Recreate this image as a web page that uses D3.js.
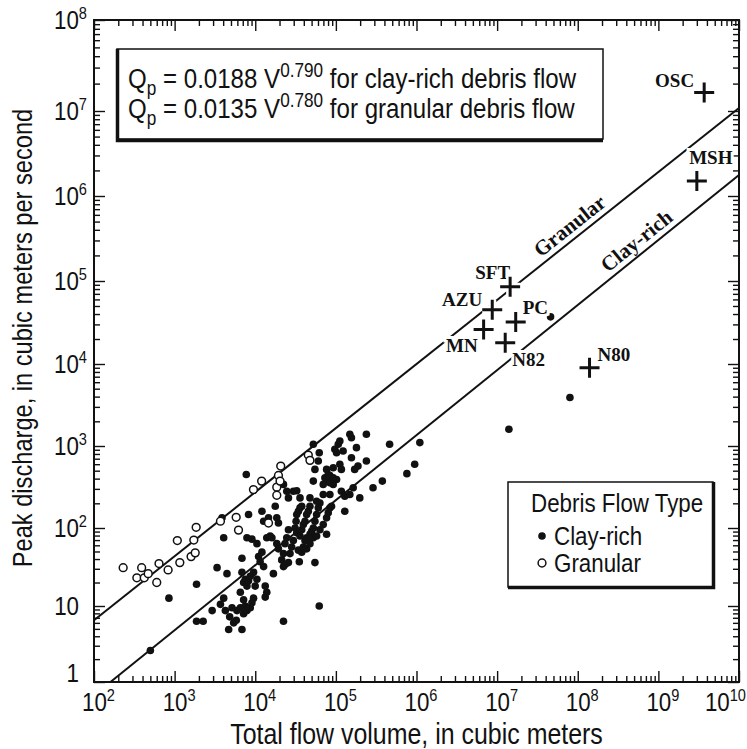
<!doctype html>
<html>
<head>
<meta charset="utf-8">
<style>
  body { margin: 0; background: #fff; }
  svg { display: block; }
  text { font-family: "Liberation Sans", Arial, sans-serif; fill: #111; }
  .tag { font-family: "Liberation Serif", "DejaVu Serif", serif; font-weight: bold; }
  .tick line { stroke: #111; stroke-width: 1.4; }
  .domain { display: none; }
</style>
<script src="https://cdn.jsdelivr.net/npm/d3@7"></script>
</head>
<body>
<svg width="747" height="749"></svg>
<script>

// clay-rich debris flows [volume m3, peak discharge m3/s]
var clayRich = [
  [500,2.6],[850,12.6],[1870,19],[1870,6.3],[2260,6.3],[3360,31],[2920,8.7],[3700,10.5],[4060,12.6],[4260,8.7],
  [4680,4.9],[4820,7.2],[5150,9.5],[5400,6.0],[5930,8.7],[6530,9.5],[6840,4.9],[7170,7.9],[7520,10],[7890,8.7],
  [8670,9.5],[9100,11],[5820,6.5],[4460,26],[4060,75],[3870,133],[6530,15],[6840,27],[7170,20],[7520,22],
  [7890,18],[8260,21],[8670,24],[9530,27],[9980,18],[10500,22],[9530,12.6],[7170,12],[6840,41],[7890,75],
  [8260,146],[7740,450],[9100,72],[10500,63],[11000,43],[11500,37],[12700,32],[12100,49],[13300,18],[13300,13],
  [13900,15],[13900,75],[15300,79],[16100,75],[16800,26],[12100,160],[12700,121],[14600,133],[18500,133],[19400,115],
  [17700,184],[18500,63],[19400,54],[21300,39],[22400,47],[23400,63],[24600,75],[25800,95],[22400,32],[23400,34],
  [25800,36],[27000,47],[28300,57],[29700,69],[31200,100],[32100,121],[32700,146],[34300,160],[35900,176],[37700,184],
  [32700,87],[35900,79],[37700,95],[39500,110],[41400,121],[43400,146],[45500,160],[47700,184],[41400,69],[43400,75],
  [47700,83],[50000,91],[52500,100],[55000,121],[57700,146],[60500,176],[63400,202],[34300,52],[37700,49],[39500,57],
  [43400,54],[47700,63],[52500,75],[57700,79],[63400,95],[69700,110],[76700,133],[76700,83],[80400,153],[84300,176],
  [88300,184],[35200,37],[55000,36],[62200,10],[22400,6.3],[25800,233],[24600,281],[29700,281],[32700,285],[22400,340],
  [35900,233],[47700,233],[57700,212],[69700,256],[84300,256],[52500,373],[55000,518],[60500,655],[62200,828],[52500,1050],
  [76700,518],[84300,437],[76700,373],[92700,409],[102000,391],[92700,340],[97000,910],[102000,828],[107000,1050],[112000,1150],
  [123000,869],[117000,518],[149000,1390],[156000,1260],[239000,1390],[180000,955],[156000,720],[188000,569],[117000,281],[129000,244],
  [149000,256],[164000,309],[198000,233],[129000,160],[239000,655],[171000,518],[289000,309],[377000,373],[464000,1050],[73100,409],
  [80400,450],[84300,356],[92700,543],[112000,597],[69700,340],[1.1e6,1100],[9.5e5,600],[7.6e5,460],[1.4e7,1600],[8e7,3900],
  [4.6e7,37000]
];

// granular debris flows
var granular = [
  [230,31],[390,31],[340,23],[420,23],[470,26],[600,20],[640,35],[830,29],[1160,36],[1080,69],
  [1600,43],[1800,48],[1730,70],[1850,102],[3700,121],[5800,135],[6200,94],[9500,294],[12000,373],[14600,115],
  [19400,437],[20700,569],[18500,315],[18500,251],[20300,373],[45500,776],[47700,668]
];

// labelled lahars (crosses)
var laharNames = ["OSC", "MSH", "SFT", "AZU", "PC", "MN", "N82", "N80"];
var laharV = [3.7e9, 3.0e9, 1.45e7, 8.7e6, 1.7e7, 6.8e6, 1.26e7, 1.4e8];
var laharQ = [1.6e7, 1.5e6, 8.5e4, 4.5e4, 3.2e4, 2.6e4, 1.8e4, 9.0e3];

// fitted lines, endpoints
var granularLine = [[1e2, 6.5], [1e10, 1.08e7]];
var clayLine = [[160, 1], [1e10, 1.77e6]];

var xTickValues = [1e2, 1e3, 1e4, 1e5, 1e6, 1e7, 1e8, 1e9, 1e10];
var xTickSup = ["2", "3", "4", "5", "6", "7", "8", "9", "10"];
var yTickValues = [1, 10, 1e2, 1e3, 1e4, 1e5, 1e6, 1e7, 1e8];
var yTickBase = ["1", "10", "10", "10", "10", "10", "10", "10", "10"];
var yTickSup = ["", "", "2", "3", "4", "5", "6", "7", "8"];

var svg = d3.select("svg");
var mLeft = 94, mRight = 739, mTop = 20, mBottom = 682;
var squeeze = 0.86;   // condensed look for the sans text

var x = d3.scaleLog().domain([1e2, 1e10]).range([mLeft, mRight]);
// the scanned axis is not quite even: decades are placed where the original ticks sit
var y = d3.scaleLog().domain(yTickValues)
          .range([mBottom, 606, 528, 446, 364, 281, 196, 111, mTop]);

// text squeezed horizontally, placed with a transform
function ctext(parent, tx, ty, size, anchor, rot) {
  return parent.append("text")
     .attr("transform", "translate(" + tx + "," + ty + ")" + (rot ? " rotate(" + rot + ")" : "") + " scale(" + squeeze + ",1)")
     .attr("font-size", size)
     .attr("text-anchor", anchor || "start");
}

function minors(majors) {
  var out = [];
  for (var i = 0; i < majors.length - 1; i++)
    for (var k = 2; k < 10; k++) out.push(majors[i] * k);
  return out;
}

// inward ticks on all four sides
function ticks(axisFn, scale, vals, size, tx, ty) {
  svg.append("g")
     .attr("transform", "translate(" + tx + "," + ty + ")")
     .call(axisFn(scale).tickValues(vals).tickSize(-size).tickSizeOuter(0).tickFormat(""));
}
[[xTickValues, 11], [minors(xTickValues), 6]].forEach(function(p) {
  ticks(d3.axisBottom, x, p[0], p[1], 0, mBottom);
  ticks(d3.axisTop, x, p[0], p[1], 0, mTop);
});
[[yTickValues, 11], [minors(yTickValues), 6]].forEach(function(p) {
  ticks(d3.axisLeft, y, p[0], p[1], mLeft, 0);
  ticks(d3.axisRight, y, p[0], p[1], mRight, 0);
});

svg.append("rect")
   .attr("x", mLeft).attr("y", mTop)
   .attr("width", mRight - mLeft).attr("height", mBottom - mTop)
   .attr("fill", "none").attr("stroke", "#111").attr("stroke-width", 2);

// tick labels
xTickValues.forEach(function(v, i) {
  var last = i === xTickValues.length - 1;
  var t = ctext(svg, last ? 746 : x(v) - 12, 711, 26, last ? "end" : "start");
  t.append("tspan").text("10");
  t.append("tspan").attr("font-size", 17).attr("dy", -10).text(xTickSup[i]);
});
yTickValues.forEach(function(v, i) {
  var t;
  if (yTickSup[i]) {
    t = ctext(svg, 87, y(v) + 9, 26, "end");
    t.append("tspan").text(yTickBase[i]);
    t.append("tspan").attr("font-size", 17).attr("dy", -10).text(yTickSup[i]);
  } else {
    ctext(svg, 79, y(v) + (i === 0 ? 0 : 9), 26, "end").text(yTickBase[i]);
  }
});

// axis titles
ctext(svg, (mLeft + mRight) / 2, 744, 29, "middle").text("Total flow volume, in cubic meters");
ctext(svg, 32, 338, 27.5, "middle", -90).text("Peak discharge, in cubic meters per second");

// fitted lines
var line = d3.line().x(function(d) { return x(d[0]); }).y(function(d) { return y(d[1]); });
[granularLine, clayLine].forEach(function(l) {
  svg.append("path").attr("d", line(l)).attr("fill", "none")
     .attr("stroke", "#111").attr("stroke-width", 2);
});

function lineLabel(l, t, txt) {
  var x0 = x(l[0][0]), y0 = y(l[0][1]), x1 = x(l[1][0]), y1 = y(l[1][1]);
  var ang = Math.atan2(y1 - y0, x1 - x0) * 180 / Math.PI;
  svg.append("text").attr("class", "tag")
     .attr("transform", "translate(" + (x0 + (x1 - x0) * t) + "," + (y0 + (y1 - y0) * t) + ") rotate(" + ang + ")")
     .attr("text-anchor", "middle").attr("dy", -6).attr("font-size", 21)
     .text(txt);
}
lineLabel(granularLine, 0.75, "Granular");
lineLabel(clayLine, 0.85, "Clay-rich");

// data points
svg.append("g").selectAll("circle").data(clayRich).enter().append("circle")
   .attr("cx", function(d) { return x(d[0]); })
   .attr("cy", function(d) { return y(d[1]); })
   .attr("r", 3.8).attr("fill", "#111");
svg.append("g").selectAll("circle").data(granular).enter().append("circle")
   .attr("cx", function(d) { return x(d[0]); })
   .attr("cy", function(d) { return y(d[1]); })
   .attr("r", 3.9).attr("fill", "#fff").attr("stroke", "#111").attr("stroke-width", 1.5);

// lahar labels: offsets relative to the cross
var tagPos = {
  OSC: [-10, -5, "end"], MSH: [14, -17, "middle"], SFT: [0, -8, "end"], AZU: [-10, -4, "end"],
  PC: [7, -8, "start"], MN: [-6, 22, "end"], N82: [7, 23, "start"], N80: [8, -7, "start"]
};
laharNames.forEach(function(n, i) {
  var cx = x(laharV[i]), cy = y(laharQ[i]), p = tagPos[n];
  svg.append("text").attr("class", "tag")
     .attr("x", cx + p[0]).attr("y", cy + p[1])
     .attr("text-anchor", p[2]).attr("font-size", 19)
     .attr("stroke", "#fff").attr("stroke-width", 6).attr("paint-order", "stroke")
     .text(n);
});
var crosses = svg.append("g");
laharNames.forEach(function(n, i) {
  var cx = x(laharV[i]), cy = y(laharQ[i]);
  var d = "M" + (cx - 10) + "," + cy + "H" + (cx + 10) + "M" + cx + "," + (cy - 10) + "V" + (cy + 10);
  crosses.append("path").attr("d", d).attr("stroke", "#fff").attr("stroke-width", 8);
  crosses.append("path").attr("d", d).attr("stroke", "#111").attr("stroke-width", 3);
});

// equation box
var eq = svg.append("g");
eq.append("rect").attr("x", 117).attr("y", 49).attr("width", 486).attr("height", 90)
  .attr("fill", "#fff").attr("stroke", "#111").attr("stroke-width", 1.5);
eq.append("path").attr("d", "M117.5,49V140.5H603").attr("fill", "none")
  .attr("stroke", "#111").attr("stroke-width", 3.5);
[["0.0188", "0.790", "clay-rich"], ["0.0135", "0.780", "granular"]].forEach(function(r, i) {
  var t = ctext(eq, 128, 88 + i * 30, 28, "start");
  t.append("tspan").text("Q");
  t.append("tspan").attr("font-size", 20).attr("dy", 7).text("p");
  t.append("tspan").attr("dy", -7).text(" = " + r[0] + " V");
  t.append("tspan").attr("font-size", 20).attr("dy", -11).text(r[1]);
  t.append("tspan").attr("dy", 11).text(" for " + r[2] + " debris flow");
});

// legend
var lg = svg.append("g");
lg.append("rect").attr("x", 508).attr("y", 482).attr("width", 205).attr("height", 105)
  .attr("fill", "#fff").attr("stroke", "#111").attr("stroke-width", 1.5);
lg.append("path").attr("d", "M508,587.5H713.5V482").attr("fill", "none")
  .attr("stroke", "#111").attr("stroke-width", 3.5);
ctext(lg, 531, 512, 26, "start").text("Debris Flow Type");
lg.append("circle").attr("cx", 542).attr("cy", 536).attr("r", 3.8).attr("fill", "#111");
ctext(lg, 554, 545, 26, "start").text("Clay-rich");
lg.append("circle").attr("cx", 542).attr("cy", 563).attr("r", 3.9)
  .attr("fill", "#fff").attr("stroke", "#111").attr("stroke-width", 1.5);
ctext(lg, 554, 572, 26, "start").text("Granular");

</script>
</body>
</html>
